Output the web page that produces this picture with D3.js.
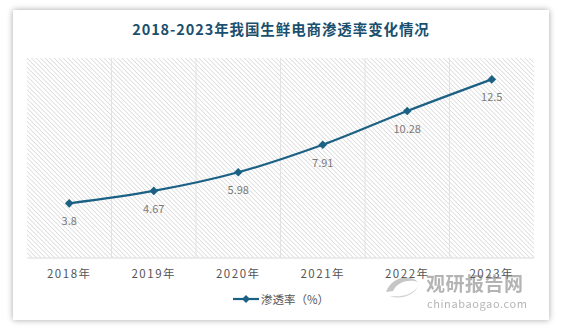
<!DOCTYPE html>
<html>
<head>
<meta charset="utf-8">
<script src="https://cdn.jsdelivr.net/npm/d3@7/dist/d3.min.js"></script>
<style>
html,body{margin:0;padding:0;background:#fff;}
svg{display:block;font-family:"Microsoft YaHei","Noto Sans CJK SC","Noto Sans",sans-serif;}
</style>
</head>
<body>
<svg id="chart" width="563" height="332"></svg>
<script>
const title = "2018-2023年我国生鲜电商渗透率变化情况";
const categories = ["2018年","2019年","2020年","2021年","2022年","2023年"];
const seriesName = "渗透率（%）";
const values = [3.8, 4.67, 5.98, 7.91, 10.28, 12.5];
const yDomain = [0, 14];

const svg = d3.select("#chart");
const defs = svg.append("defs");

const shadow = defs.append("filter").attr("id","sh").attr("x","-10%").attr("y","-10%").attr("width","120%").attr("height","120%");
shadow.append("feGaussianBlur").attr("in","SourceAlpha").attr("stdDeviation",3);
shadow.append("feOffset").attr("dx",0).attr("dy",0).attr("result","b");
shadow.append("feComponentTransfer").append("feFuncA").attr("type","linear").attr("slope",0.35);
const fm = shadow.append("feMerge");
fm.append("feMergeNode");
fm.append("feMergeNode").attr("in","SourceGraphic");

const pat = defs.append("pattern").attr("id","hatch").attr("patternUnits","userSpaceOnUse")
  .attr("width",3.2).attr("height",3.2).attr("patternTransform","rotate(-45)");
pat.append("rect").attr("width",3.2).attr("height",3.2).attr("fill","#ffffff");
pat.append("line").attr("x1",0).attr("y1",0).attr("x2",0).attr("y2",3.2).attr("stroke","#d6d6d6").attr("stroke-width",1.4);

// card
svg.append("rect").attr("x",13).attr("y",10).attr("width",536).attr("height",310)
  .attr("fill","#fff").attr("filter","url(#sh)");

svg.append("text").attr("x",281).attr("y",35).attr("text-anchor","middle")
  .attr("font-size",14.5).attr("font-weight","bold").attr("fill","#1a4f6e")
  .attr("letter-spacing",0.9).text(title);

svg.append("line").attr("x1",27).attr("x2",534).attr("y1",61).attr("y2",61)
  .attr("stroke","#d8d8d8").attr("stroke-dasharray","1,2");

const m = {left:27, right:534, top:58, bottom:257.5};
const x = d3.scaleBand().domain(categories).range([m.left, m.right]).padding(0);
const y = d3.scaleLinear().domain(yDomain).range([m.bottom, m.top]);

svg.append("rect").attr("x",m.left).attr("y",m.top).attr("width",m.right-m.left).attr("height",m.bottom-m.top)
  .attr("fill","url(#hatch)");

// vertical gridlines at band boundaries
svg.append("g").selectAll("line").data(categories.slice(1)).join("line")
  .attr("x1",d=>x(d)).attr("x2",d=>x(d)).attr("y1",m.top).attr("y2",m.bottom)
  .attr("stroke","#e2e2e2").attr("stroke-width",1);

// x axis
const xAxis = svg.append("g").attr("transform",`translate(0,${m.bottom})`)
  .call(d3.axisBottom(x).tickSize(0).tickPadding(12));
xAxis.select(".domain").attr("stroke","#d9d9d9");
xAxis.selectAll("text").attr("font-size",11.5).attr("fill","#555").attr("letter-spacing",1.5)
  .attr("font-family","'Microsoft YaHei','Noto Sans CJK SC',sans-serif");

const cx = d => x(d) + x.bandwidth()/2;
const data = categories.map((c,i)=>({c, v: values[i]}));

const line = d3.line().x(d=>cx(d.c)).y(d=>y(d.v)).curve(d3.curveMonotoneX);
svg.append("path").datum(data).attr("d",line).attr("fill","none")
  .attr("stroke","#1b6185").attr("stroke-width",2.2);

svg.append("g").selectAll("path").data(data).join("path")
  .attr("d",d3.symbol(d3.symbolDiamond2,48)())
  .attr("transform",d=>`translate(${cx(d.c)},${y(d.v)})`)
  .attr("fill","#1b6185");

svg.append("g").selectAll("text").data(data).join("text")
  .attr("x",d=>cx(d.c)).attr("y",d=>y(d.v)+22)
  .attr("text-anchor","middle").attr("font-size",11).attr("fill","#7a7a7a")
  .text(d=>d.v);

// legend
const lg = svg.append("g");
lg.append("line").attr("x1",233).attr("x2",259).attr("y1",299).attr("y2",299)
  .attr("stroke","#1b6185").attr("stroke-width",2.2);
lg.append("path").attr("d",d3.symbol(d3.symbolDiamond2,40)()).attr("transform","translate(246,299)").attr("fill","#1b6185");
lg.append("text").attr("x",261).attr("y",303.5).attr("font-size",11.5).attr("fill","#555").text(seriesName);

// watermark
const wm = svg.append("g").attr("opacity",0.55);
wm.append("path").attr("d","M386,292 C392,276 410,274 418,282 C410,279 398,281 393,291 Z").attr("fill","#999");
wm.append("path").attr("d","M390,296 C400,300 414,296 418,286 C412,296 400,297 390,296 Z").attr("fill","#aaa");
wm.append("text").attr("x",426).attr("y",291).attr("font-size",19).attr("font-weight","bold").attr("fill","#777").attr("letter-spacing",0.5).text("观研报告网");
wm.append("text").attr("x",427).attr("y",308).attr("font-size",11).attr("fill","#777").attr("letter-spacing",0.6).text("chinabaogao.com");
</script>
</body>
</html>
